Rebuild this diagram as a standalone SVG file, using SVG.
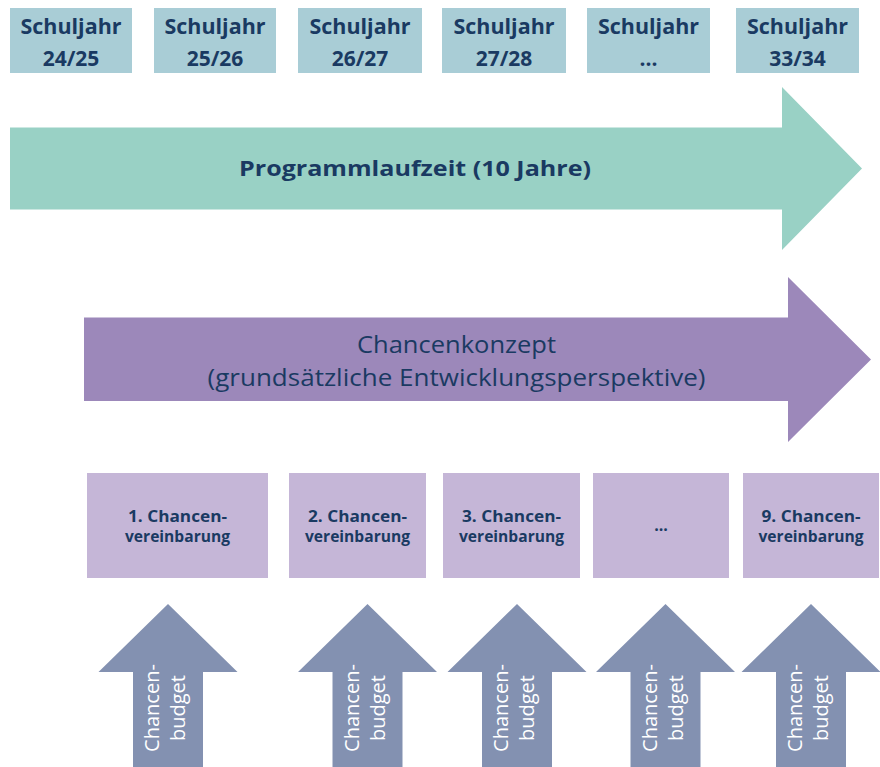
<svg xmlns="http://www.w3.org/2000/svg" xmlns:xlink="http://www.w3.org/1999/xlink" width="880" height="767" viewBox="0 0 880 767">
  <style>
    .year rect { fill: #A9CDD6; }
    .year text { font-family: "Open Sans", "Liberation Sans", sans-serif; font-weight: bold; font-size: 21px; fill: #1A3A62; text-anchor: middle; }
    .cv rect { fill: #C5B6D7; }
    .cv text { font-family: "Open Sans", "Liberation Sans", sans-serif; font-weight: bold; font-size: 16px; fill: #1A3A62; text-anchor: middle; }
    .budget use { fill: #8391B1; }
    .budget text { font-family: "Open Sans", "Liberation Sans", sans-serif; font-size: 20px; fill: #FFFFFF; text-anchor: middle; }
    .big { font-family: "Open Sans", "Liberation Sans", sans-serif; fill: #1A3A62; text-anchor: middle; }
  </style>
  <defs>
    <path id="upArrow" fill="#8391B1" d="M0,604 L69.5,672 L35,672 L35,767 L-35,767 L-35,672 L-69.5,672 Z"/>
  </defs>
  <rect width="880" height="767" fill="#FFFFFF"/>

  <!-- School years -->
  <g id="year1" class="year"><rect x="10" y="8" width="122" height="65"/><text x="71" y="34" textLength="101" lengthAdjust="spacingAndGlyphs">Schuljahr</text><text x="71" y="66">24/25</text></g>
  <g id="year2" class="year"><rect x="154" y="8" width="122" height="65"/><text x="215" y="34" textLength="101" lengthAdjust="spacingAndGlyphs">Schuljahr</text><text x="215" y="66">25/26</text></g>
  <g id="year3" class="year"><rect x="298" y="8" width="124" height="65"/><text x="360" y="34" textLength="101" lengthAdjust="spacingAndGlyphs">Schuljahr</text><text x="360" y="66">26/27</text></g>
  <g id="year4" class="year"><rect x="442" y="8" width="124" height="65"/><text x="504" y="34" textLength="101" lengthAdjust="spacingAndGlyphs">Schuljahr</text><text x="504" y="66">27/28</text></g>
  <g id="year5" class="year"><rect x="587" y="8" width="123" height="65"/><text x="648.5" y="34" textLength="101" lengthAdjust="spacingAndGlyphs">Schuljahr</text><text x="648.5" y="66">...</text></g>
  <g id="year6" class="year"><rect x="736" y="8" width="123" height="65"/><text x="797.5" y="34" textLength="101" lengthAdjust="spacingAndGlyphs">Schuljahr</text><text x="797.5" y="66">33/34</text></g>

  <!-- Programmlaufzeit arrow -->
  <g id="programmlaufzeit">
    <polygon points="10,127.5 782,127.5 782,87 862,168.5 782,250 782,209.5 10,209.5" fill="#99D1C5"/>
    <text class="big" x="415" y="176" font-size="21" font-weight="bold" textLength="352" lengthAdjust="spacingAndGlyphs">Programmlaufzeit (10 Jahre)</text>
  </g>

  <!-- Chancenkonzept arrow -->
  <g id="chancenkonzept">
    <polygon points="84,317.5 788,317.5 788,277 871,359.5 788,442 788,401 84,401" fill="#9C88BA"/>
    <text class="big" x="456.5" y="353" font-size="23" textLength="199" lengthAdjust="spacingAndGlyphs">Chancenkonzept</text>
    <text class="big" x="456.5" y="386" font-size="23" textLength="498" lengthAdjust="spacingAndGlyphs">(grundsätzliche Entwicklungsperspektive)</text>
  </g>

  <!-- Chancenvereinbarungen -->
  <g id="cv1" class="cv"><rect x="87" y="473" width="181" height="105"/><text x="177.5" y="521.5" textLength="99" lengthAdjust="spacingAndGlyphs">1. Chancen-</text><text x="177.5" y="541.5" textLength="105" lengthAdjust="spacingAndGlyphs">vereinbarung</text></g>
  <g id="cv2" class="cv"><rect x="289" y="473" width="137" height="105"/><text x="357.5" y="521.5" textLength="99" lengthAdjust="spacingAndGlyphs">2. Chancen-</text><text x="357.5" y="541.5" textLength="105" lengthAdjust="spacingAndGlyphs">vereinbarung</text></g>
  <g id="cv3" class="cv"><rect x="443" y="473" width="137" height="105"/><text x="511.5" y="521.5" textLength="99" lengthAdjust="spacingAndGlyphs">3. Chancen-</text><text x="511.5" y="541.5" textLength="105" lengthAdjust="spacingAndGlyphs">vereinbarung</text></g>
  <g id="cv4" class="cv"><rect x="593" y="473" width="136" height="105"/><text x="661" y="531">...</text></g>
  <g id="cv5" class="cv"><rect x="743" y="473" width="136" height="105"/><text x="811" y="521.5" textLength="99" lengthAdjust="spacingAndGlyphs">9. Chancen-</text><text x="811" y="541.5" textLength="105" lengthAdjust="spacingAndGlyphs">vereinbarung</text></g>

  <!-- Chancenbudget arrows -->
  <g id="budget1" class="budget"><use xlink:href="#upArrow" href="#upArrow" x="168"/><g transform="translate(168,708) rotate(-90)"><text x="0" y="-9">Chancen-</text><text x="0" y="17">budget</text></g></g>
  <g id="budget2" class="budget"><use xlink:href="#upArrow" href="#upArrow" x="367.5"/><g transform="translate(367.5,708) rotate(-90)"><text x="0" y="-9">Chancen-</text><text x="0" y="17">budget</text></g></g>
  <g id="budget3" class="budget"><use xlink:href="#upArrow" href="#upArrow" x="517"/><g transform="translate(517,708) rotate(-90)"><text x="0" y="-9">Chancen-</text><text x="0" y="17">budget</text></g></g>
  <g id="budget4" class="budget"><use xlink:href="#upArrow" href="#upArrow" x="665.5"/><g transform="translate(665.5,708) rotate(-90)"><text x="0" y="-9">Chancen-</text><text x="0" y="17">budget</text></g></g>
  <g id="budget5" class="budget"><use xlink:href="#upArrow" href="#upArrow" x="811"/><g transform="translate(811,708) rotate(-90)"><text x="0" y="-9">Chancen-</text><text x="0" y="17">budget</text></g></g>
</svg>
